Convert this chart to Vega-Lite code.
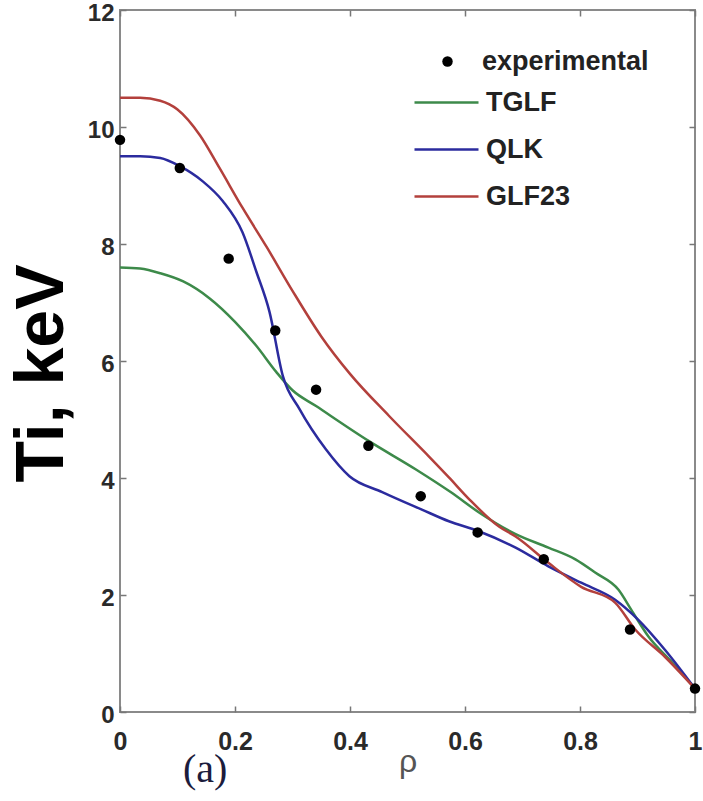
{
  "$schema": "https://vega.github.io/schema/vega-lite/v6.json",
  "width": 575,
  "height": 702,
  "autosize": "none",
  "padding": {"left": 120, "top": 10, "right": 8, "bottom": 89},
  "background": "white",
  "config": {
    "view": {"stroke": "#8a8a8a", "strokeWidth": 2},
    "axis": {"grid": false, "domain": false}
  },
  "title": {
    "text": "(a)",
    "orient": "bottom",
    "anchor": "start",
    "frame": "group",
    "dx": 63,
    "offset": -27,
    "font": "Liberation Serif",
    "fontSize": 40,
    "fontWeight": "normal",
    "color": "#1c1c3c"
  },
  "data": {
    "values": [
      {"series": "experimental", "rho": 0.0, "Ti": 9.78},
      {"series": "experimental", "rho": 0.104, "Ti": 9.3},
      {"series": "experimental", "rho": 0.189, "Ti": 7.75},
      {"series": "experimental", "rho": 0.27, "Ti": 6.52},
      {"series": "experimental", "rho": 0.341, "Ti": 5.51},
      {"series": "experimental", "rho": 0.432, "Ti": 4.55},
      {"series": "experimental", "rho": 0.523, "Ti": 3.69},
      {"series": "experimental", "rho": 0.622, "Ti": 3.07},
      {"series": "experimental", "rho": 0.737, "Ti": 2.61},
      {"series": "experimental", "rho": 0.887, "Ti": 1.41},
      {"series": "experimental", "rho": 1.0, "Ti": 0.4},

      {"series": "TGLF", "rho": 0.0, "Ti": 7.6},
      {"series": "TGLF", "rho": 0.035, "Ti": 7.58},
      {"series": "TGLF", "rho": 0.07, "Ti": 7.5},
      {"series": "TGLF", "rho": 0.11, "Ti": 7.36},
      {"series": "TGLF", "rho": 0.156, "Ti": 7.07},
      {"series": "TGLF", "rho": 0.2, "Ti": 6.67},
      {"series": "TGLF", "rho": 0.237, "Ti": 6.26},
      {"series": "TGLF", "rho": 0.272, "Ti": 5.81},
      {"series": "TGLF", "rho": 0.3, "Ti": 5.5},
      {"series": "TGLF", "rho": 0.341, "Ti": 5.23},
      {"series": "TGLF", "rho": 0.433, "Ti": 4.63},
      {"series": "TGLF", "rho": 0.514, "Ti": 4.15},
      {"series": "TGLF", "rho": 0.575, "Ti": 3.76},
      {"series": "TGLF", "rho": 0.629, "Ti": 3.38},
      {"series": "TGLF", "rho": 0.688, "Ti": 3.04},
      {"series": "TGLF", "rho": 0.745, "Ti": 2.81},
      {"series": "TGLF", "rho": 0.792, "Ti": 2.61},
      {"series": "TGLF", "rho": 0.827, "Ti": 2.38},
      {"series": "TGLF", "rho": 0.867, "Ti": 2.09},
      {"series": "TGLF", "rho": 0.889, "Ti": 1.75},
      {"series": "TGLF", "rho": 0.919, "Ti": 1.29},
      {"series": "TGLF", "rho": 0.96, "Ti": 0.85},
      {"series": "TGLF", "rho": 1.0, "Ti": 0.4},

      {"series": "QLK", "rho": 0.0, "Ti": 9.5},
      {"series": "QLK", "rho": 0.035, "Ti": 9.5},
      {"series": "QLK", "rho": 0.07, "Ti": 9.47},
      {"series": "QLK", "rho": 0.104, "Ti": 9.33},
      {"series": "QLK", "rho": 0.144, "Ti": 9.07},
      {"series": "QLK", "rho": 0.179, "Ti": 8.73},
      {"series": "QLK", "rho": 0.213, "Ti": 8.2},
      {"series": "QLK", "rho": 0.237, "Ti": 7.53},
      {"series": "QLK", "rho": 0.26, "Ti": 6.84},
      {"series": "QLK", "rho": 0.283, "Ti": 5.75},
      {"series": "QLK", "rho": 0.312, "Ti": 5.18},
      {"series": "QLK", "rho": 0.358, "Ti": 4.49},
      {"series": "QLK", "rho": 0.399, "Ti": 4.03},
      {"series": "QLK", "rho": 0.456, "Ti": 3.76},
      {"series": "QLK", "rho": 0.525, "Ti": 3.46},
      {"series": "QLK", "rho": 0.572, "Ti": 3.26},
      {"series": "QLK", "rho": 0.624, "Ti": 3.09},
      {"series": "QLK", "rho": 0.688, "Ti": 2.81},
      {"series": "QLK", "rho": 0.745, "Ti": 2.49},
      {"series": "QLK", "rho": 0.802, "Ti": 2.21},
      {"series": "QLK", "rho": 0.861, "Ti": 1.92},
      {"series": "QLK", "rho": 0.901, "Ti": 1.58},
      {"series": "QLK", "rho": 0.948, "Ti": 1.06},
      {"series": "QLK", "rho": 1.0, "Ti": 0.4},

      {"series": "GLF23", "rho": 0.0, "Ti": 10.5},
      {"series": "GLF23", "rho": 0.035, "Ti": 10.5},
      {"series": "GLF23", "rho": 0.07, "Ti": 10.45},
      {"series": "GLF23", "rho": 0.1, "Ti": 10.3},
      {"series": "GLF23", "rho": 0.139, "Ti": 9.86},
      {"series": "GLF23", "rho": 0.173, "Ti": 9.3},
      {"series": "GLF23", "rho": 0.213, "Ti": 8.62},
      {"series": "GLF23", "rho": 0.255, "Ti": 7.95},
      {"series": "GLF23", "rho": 0.3, "Ti": 7.2},
      {"series": "GLF23", "rho": 0.35, "Ti": 6.42},
      {"series": "GLF23", "rho": 0.4, "Ti": 5.78},
      {"series": "GLF23", "rho": 0.468, "Ti": 5.06},
      {"series": "GLF23", "rho": 0.537, "Ti": 4.37},
      {"series": "GLF23", "rho": 0.572, "Ti": 4.01},
      {"series": "GLF23", "rho": 0.607, "Ti": 3.64},
      {"series": "GLF23", "rho": 0.659, "Ti": 3.17},
      {"series": "GLF23", "rho": 0.688, "Ti": 3.0},
      {"series": "GLF23", "rho": 0.745, "Ti": 2.55},
      {"series": "GLF23", "rho": 0.802, "Ti": 2.14},
      {"series": "GLF23", "rho": 0.861, "Ti": 1.87},
      {"series": "GLF23", "rho": 0.896, "Ti": 1.41},
      {"series": "GLF23", "rho": 0.948, "Ti": 0.94},
      {"series": "GLF23", "rho": 1.0, "Ti": 0.4}
    ]
  },
  "resolve": {"axis": {"x": "independent", "y": "independent"}},
  "layer": [
    {
      "transform": [{"filter": "datum.series !== 'experimental'"}],
      "mark": {"type": "line", "interpolate": "monotone", "strokeWidth": 2.5},
      "encoding": {
        "x": {
          "field": "rho", "type": "quantitative",
          "scale": {"domain": [0, 1], "nice": false},
          "axis": {
            "title": "ρ", "values": [0, 0.2, 0.4, 0.6, 0.8, 1], "format": "~g",
            "labelFont": "Liberation Sans", "labelFontSize": 25, "labelFontWeight": "bold",
            "labelColor": "#2a2a2a", "labelPadding": 23, "tickSize": -6, "tickColor": "#777", "tickWidth": 1.5,
            "labelFlush": false,
            "titleFont": "Liberation Sans", "titleFontSize": 32, "titleFontWeight": "normal",
            "titleColor": "#555", "titlePadding": -8
          }
        },
        "y": {
          "field": "Ti", "type": "quantitative",
          "scale": {"domain": [0, 12], "nice": false},
          "axis": {
            "title": "Ti, keV", "values": [0, 2, 4, 6, 8, 10, 12], "format": "~g",
            "labelFont": "Liberation Sans", "labelFontSize": 24, "labelFontWeight": "bold",
            "labelColor": "#2a2a2a", "labelPadding": 12, "labelOffset": 3, "tickSize": -6, "tickColor": "#777", "tickWidth": 1.5,
            "labelFlush": false,
            "titleFont": "Liberation Sans", "titleFontSize": 68, "titleFontWeight": "bold",
            "titleColor": "#000", "titlePadding": 11, "titleY": 363
          }
        },
        "color": {
          "field": "series", "type": "nominal",
          "scale": {"domain": ["TGLF", "QLK", "GLF23"], "range": ["#3d8a4a", "#2b2b9e", "#b3403c"]},
          "legend": {
            "title": null, "orient": "none", "legendX": 293, "legendY": 59,
            "symbolType": "stroke", "symbolSize": 4096, "symbolStrokeWidth": 2.5,
            "labelFont": "Liberation Sans", "labelFontSize": 27, "labelFontWeight": "bold",
            "labelColor": "#222", "labelOffset": 6, "rowPadding": -1, "padding": 0, "labelLimit": 400
          }
        }
      }
    },
    {
      "transform": [{"filter": "datum.series === 'experimental'"}],
      "mark": {"type": "point", "filled": true, "color": "#000", "size": 110, "opacity": 1},
      "encoding": {
        "x": {
          "field": "rho", "type": "quantitative",
          "axis": {"orient": "top", "title": null, "labels": false, "values": [0, 0.2, 0.4, 0.6, 0.8, 1], "tickSize": -6, "tickColor": "#777", "tickWidth": 1.5}
        },
        "y": {
          "field": "Ti", "type": "quantitative",
          "axis": {"orient": "right", "title": null, "labels": false, "values": [0, 2, 4, 6, 8, 10, 12], "tickSize": -6, "tickColor": "#777", "tickWidth": 1.5}
        },
        "shape": {
          "field": "series", "type": "nominal",
          "scale": {"domain": ["experimental"], "range": ["circle"]},
          "legend": {
            "title": null, "orient": "none", "legendX": 314, "legendY": 38,
            "symbolFillColor": "#000", "symbolStrokeColor": "#000", "symbolSize": 110,
            "labelFont": "Liberation Sans", "labelFontSize": 27, "labelFontWeight": "bold",
            "labelColor": "#222", "labelOffset": 21, "padding": 0, "labelLimit": 400
          }
        }
      }
    }
  ]
}
